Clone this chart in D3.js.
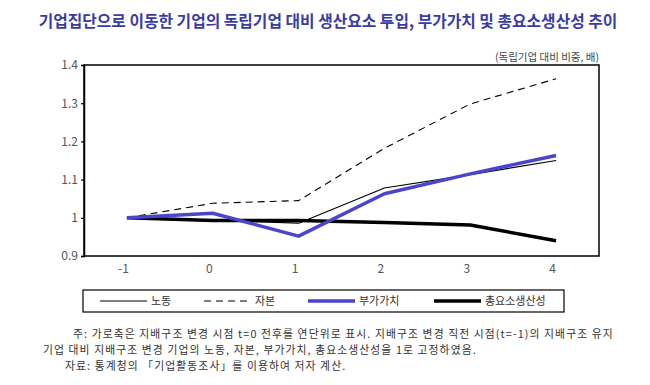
<!DOCTYPE html>
<html><head><meta charset="utf-8">
<script src="https://cdn.jsdelivr.net/npm/d3@7"></script>
<style>
body{margin:0;background:#fff;}
svg{display:block;}
text{font-family:"Noto Sans CJK KR","Noto Sans",sans-serif;}
</style></head>
<body><svg id="c" width="650" height="385"></svg>
<script>
const categories = [-1, 0, 1, 2, 3, 4];
const labor   = [1.0, 0.993, 0.986, 1.078, 1.113, 1.150];
const capital = [1.0, 1.038, 1.045, 1.182, 1.298, 1.364];
const valueAdded = [1.0, 1.012, 0.952, 1.063, 1.115, 1.163];
const tfp     = [1.0, 0.993, 0.993, 0.988, 0.981, 0.940];
const yTicks = [0.9, 1.0, 1.1, 1.2, 1.3, 1.4];
const seriesNames = ["노동", "자본", "부가가치", "총요소생산성"];
const title = "기업집단으로 이동한 기업의 독립기업 대비 생산요소 투입, 부가가치 및 총요소생산성 추이";
const unitLabel = "(독립기업 대비 비중, 배)";
const notes = [
  "주: 가로축은 지배구조 변경 시점 t=0 전후를 연단위로 표시. 지배구조 변경 직전 시점(t=-1)의 지배구조 유지",
  "기업 대비 지배구조 변경 기업의 노동, 자본, 부가가치, 총요소생산성을 1로 고정하였음.",
  "자료: 통계청의 「기업활동조사」를 이용하여 저자 계산."
];

const svg = d3.select("#c");
const L = 84, R = 599, T = 65, B = 256;
const x = d3.scalePoint().domain(categories).range([L, R]).padding(0.5);
const y = d3.scaleLinear().domain([0.9, 1.4]).range([B, T]);

svg.append("text").attr("x", 328).attr("y", 26.5).attr("text-anchor", "middle")
  .attr("font-size", 15.8).attr("font-weight", "bold").attr("fill", "#3b3ba6").text(title);

svg.append("text").attr("x", 599).attr("y", 61).attr("text-anchor", "end")
  .attr("font-size", 10.5).attr("fill", "#444").text(unitLabel);

// frame
svg.append("rect").attr("x", L).attr("y", T).attr("width", R - L).attr("height", B - T)
  .attr("fill", "none").attr("stroke", "#000").attr("stroke-width", 1.5);

const yAxis = svg.append("g").attr("transform", `translate(${L},0)`)
  .call(d3.axisLeft(y).tickValues(yTicks).tickSize(3).tickFormat(d => d3.format("")(+d.toFixed(1))));
yAxis.select(".domain").attr("stroke-width", 1.5);
yAxis.selectAll("line").attr("stroke-width", 1.2);
yAxis.selectAll("text").attr("font-size", 12).attr("fill", "#555").attr("x", -6);

const xAxis = svg.append("g").attr("transform", `translate(0,${B})`)
  .call(d3.axisBottom(x).tickSize(0).tickFormat(d => d));
xAxis.select(".domain").remove();
xAxis.selectAll("text").attr("font-size", 12).attr("fill", "#555").attr("dx", -4).attr("dy", 14);

const line = d3.line().x((d, i) => x(categories[i])).y(d => y(d));
const styles = [
  {data: labor, color: "#000", w: 1.1, dash: null},
  {data: capital, color: "#000", w: 1.1, dash: "7,5"},
  {data: valueAdded, color: "#4a45cc", w: 3.5, dash: null},
  {data: tfp, color: "#000", w: 3.5, dash: null}
];
[3, 0, 1, 2].forEach(i => {
  const s = styles[i];
  svg.append("path").attr("d", line(s.data)).attr("fill", "none")
    .attr("stroke", s.color).attr("stroke-width", s.w)
    .attr("stroke-dasharray", s.dash).attr("stroke-linejoin", "round");
});

// legend
svg.append("rect").attr("x", 83).attr("y", 290).attr("width", 481).attr("height", 22)
  .attr("fill", "#fff").attr("stroke", "#000").attr("stroke-width", 1.2);
const legX = [100, 204, 308, 434];
styles.forEach((s, i) => {
  svg.append("line").attr("x1", legX[i]).attr("x2", legX[i] + 47).attr("y1", 301).attr("y2", 301)
    .attr("stroke", s.color).attr("stroke-width", s.w).attr("stroke-dasharray", s.dash);
  svg.append("text").attr("x", legX[i] + 51).attr("y", 305).attr("font-size", 11)
    .attr("fill", "#333").text(seriesNames[i]);
});

const noteX = [73, 43, 65], noteY = [338, 354, 370];
notes.forEach((t, i) => {
  svg.append("text").attr("x", noteX[i]).attr("y", noteY[i]).attr("font-size", 10.8)
    .attr("letter-spacing", 1.1).attr("fill", "#333").text(t);
});
</script></body></html>
